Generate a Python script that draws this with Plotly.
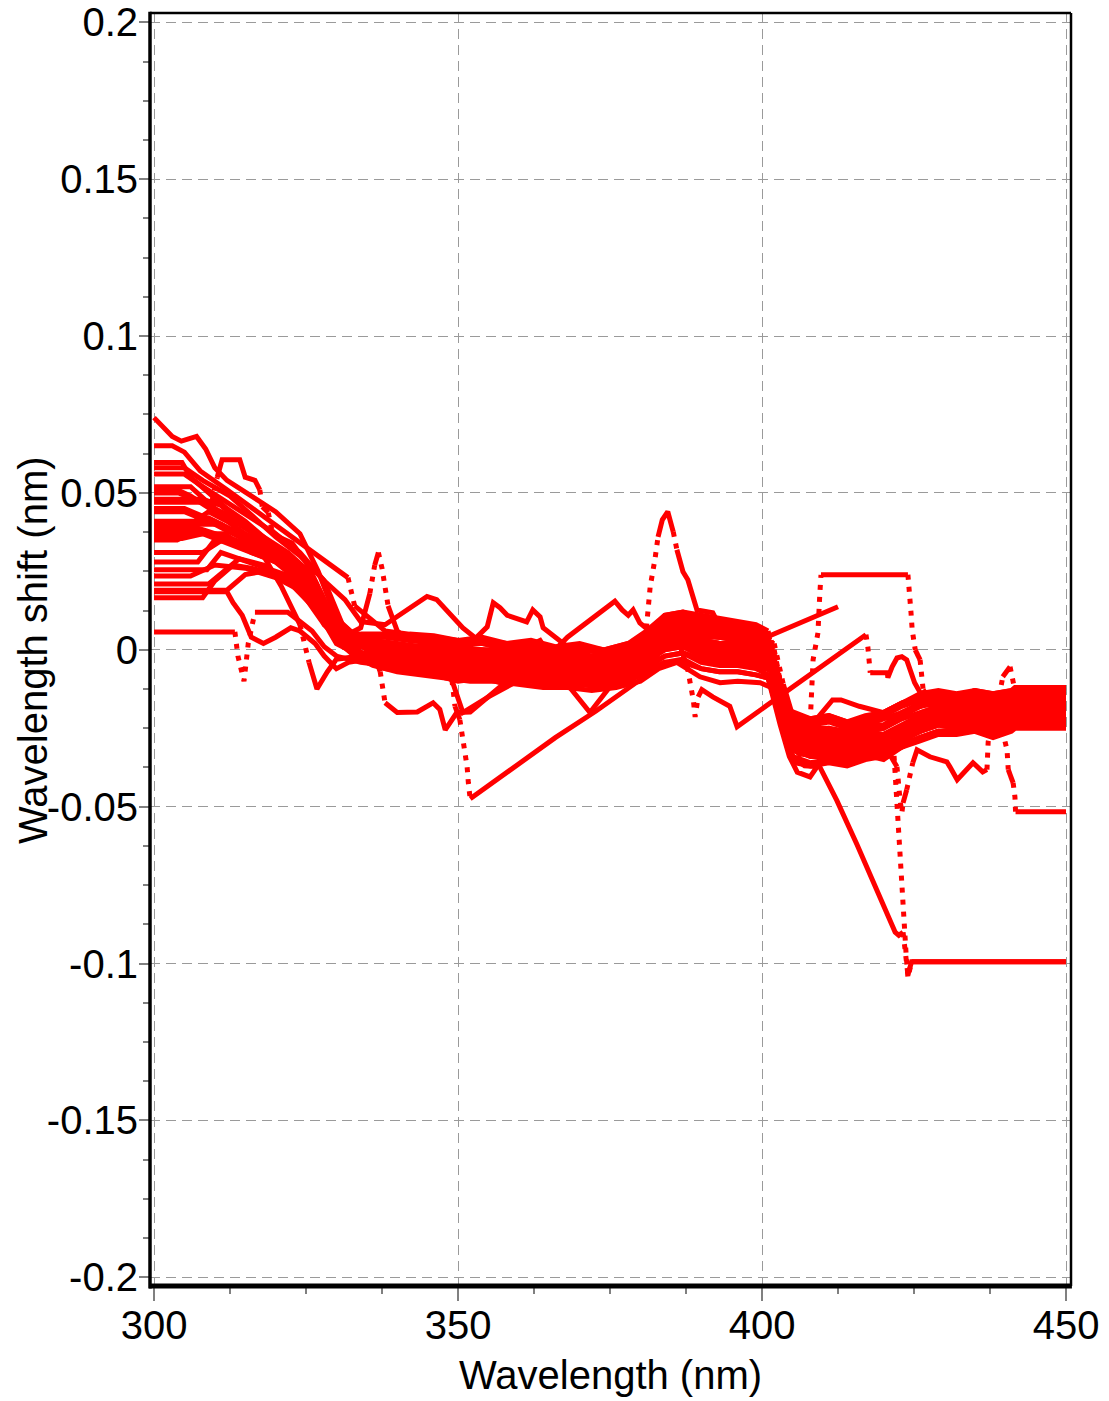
import plotly.graph_objects as go

# ---------------- data ----------------
x_tick_vals = [300, 350, 400, 450]
x_tick_text = ["300", "350", "400", "450"]
y_tick_vals = [-0.2, -0.15, -0.1, -0.05, 0, 0.05, 0.1, 0.15, 0.2]
y_tick_text = ["-0.2", "-0.15", "-0.1", "-0.05", "0", "0.05", "0.1", "0.15", "0.2"]
x_title = "Wavelength (nm)"
y_title = "Wavelength shift (nm)"

# each series: list of (wavelength nm, shift nm) vertices
s01 = [(300, 0.074), (301.5, 0.071), (303, 0.068), (304.5, 0.0665), (307, 0.068), (308.5, 0.064), (310, 0.058), (312, 0.054), (316, 0.049), (320, 0.044), (324, 0.037), (327, 0.025), (330, 0.010),
       (334, 0.003), (338, 0.0025), (342, 0.001), (346, 0.0015), (350, 0.000), (354, -0.0005), (358, -0.001), (362, 0.000), (366, -0.002), (370, -0.0015), (374, -0.003), (378, -0.001),
       (381, 0.004), (384, 0.009), (387, 0.010), (390, 0.008), (393, 0.007), (396, 0.006), (399, 0.005), (401.5, 0.003), (403, -0.010), (405, -0.022),
       (408, -0.024), (411, -0.023), (414, -0.025), (417, -0.024), (420, -0.022), (423, -0.020), (426, -0.017),
       (429, -0.017), (432, -0.018), (435, -0.016), (438, -0.018), (441, -0.016), (441.6, -0.014), (450, -0.014)]

s02 = [(300, 0.065), (303, 0.065), (305, 0.063), (307.6, 0.057), (312, 0.051), (316, 0.0453), (320, 0.0396), (324, 0.034), (328, 0.0285), (331.9, 0.023), (333, 0.014), (336, 0.009),
       (338, 0.006), (342, 0.005), (346, 0.0045), (350, 0.003), (354, 0.004), (358, 0.002), (362, 0.003), (366, 0.001), (370, 0.002), (374, 0.000), (378, 0.002),
       (381, 0.003), (384, 0.007), (387, 0.008), (390, 0.007), (393, 0.006), (396, 0.005), (399, 0.004), (401, 0.002), (402.5, -0.008), (404.5, -0.021),
       (408, -0.022), (411, -0.021), (414, -0.023), (417, -0.022), (420, -0.020), (423, -0.017), (426, -0.015),
       (429, -0.014), (432, -0.015), (435, -0.013), (438, -0.015), (441, -0.014), (441.6, -0.013), (450, -0.013)]

s03 = [(300, 0.047), (309.5, 0.047), (310.4, 0.055), (311.2, 0.0606), (314.1, 0.0606), (314.5, 0.058), (315.0, 0.055), (316.6, 0.054), (317.4, 0.051), (317.8, 0.0456), (318.8, 0.0437), (319.4, 0.038), (320.4, 0.036), (322.7, 0.034), (325, 0.028), (327.5, 0.018), (330, 0.006),
       (334, 0.001), (338, 0.0005), (342, -0.0005), (346, 0.000), (350, -0.002), (354, -0.001), (358, -0.003), (362, -0.002), (366, -0.004), (370, -0.003), (374, -0.004), (378, -0.002),
       (381, 0.000), (384, 0.004), (387, 0.005), (390, 0.003), (393, 0.002), (396, 0.0015), (399, 0.000), (402, -0.003), (403.5, -0.014), (405.5, -0.026),
       (408, -0.028), (411, -0.027), (414, -0.028), (417, -0.026), (420, -0.027), (423, -0.024), (426, -0.021),
       (429, -0.019), (432, -0.020), (435, -0.018), (438, -0.020), (441, -0.018), (441.6, -0.016), (450, -0.016)]

s04 = [(300, 0.058), (305, 0.058), (308, 0.054), (312.5, 0.049), (316, 0.043), (320, 0.036), (324, 0.030), (328, 0.022), (331.4, 0.016), (334, 0.009), (338, 0.008), (341, 0.012), (344.9, 0.017), (346.5, 0.016), (348.5, 0.012), (350.8, 0.007), (354, 0.002),
       (358, 0.000), (362, -0.001), (366, -0.003), (370, -0.002), (374, -0.004), (378, -0.002),
       (381, 0.002), (384, 0.006), (387, 0.007), (390, 0.005), (393, 0.004), (396, 0.004), (399, 0.002), (401, 0.001), (402.5, -0.010), (404.5, -0.024),
       (408, -0.026), (411, -0.025), (414, -0.027), (417, -0.025), (420, -0.024), (423, -0.021), (426, -0.018),
       (429, -0.016), (432, -0.017), (435, -0.015), (438, -0.017), (441, -0.015), (441.6, -0.014), (450, -0.014)]

s05 = [(300, 0.052), (306, 0.052), (310, 0.045), (314, 0.038), (318, 0.030), (321, 0.020), (324, 0.008), (325.5, -0.004), (326.8, -0.0125), (328.5, -0.007), (330, -0.003),
       (334, -0.002), (338, -0.002), (342, -0.003), (346, -0.004), (350, -0.004), (354, -0.005), (358, -0.005), (362, -0.006), (366, -0.007), (370, -0.006), (374, -0.008), (378, -0.006),
       (381, -0.003), (384, 0.000), (387, 0.001), (390, -0.001), (393, -0.002), (396, -0.002), (399, -0.003), (401.5, -0.005), (403, -0.016), (405, -0.029),
       (408, -0.031), (411, -0.030), (414, -0.032), (417, -0.030), (420, -0.029), (423, -0.026), (426, -0.024),
       (429, -0.022), (432, -0.023), (435, -0.021), (438, -0.023), (441, -0.021), (441.6, -0.020), (450, -0.020)]

s06 = [(300, 0.0057), (313.3, 0.0057), (313.8, -0.002), (314.3, -0.006), (314.8, -0.010), (315.5, 0.002), (316.6, 0.012), (322.0, 0.012), (324, 0.009), (326, 0.006), (328, 0.001), (330, -0.002),
       (334, -0.004), (338, -0.005), (342, -0.006), (346, -0.006), (350, -0.008), (354, -0.007), (358, -0.009), (362, -0.008), (366, -0.010), (370, -0.009), (374, -0.010), (378, -0.008),
       (381, -0.005), (384, -0.002), (387, -0.001), (390, -0.003), (393, -0.004), (396, -0.004), (399, -0.005), (402, -0.007), (403.5, -0.020), (405.5, -0.032),
       (408, -0.034), (411, -0.033), (414, -0.035), (417, -0.033), (420, -0.032), (423, -0.029), (426, -0.026),
       (429, -0.024), (432, -0.025), (435, -0.023), (438, -0.025), (441, -0.023), (441.6, -0.022), (450, -0.022)]

s07 = [(300, 0.0185), (312, 0.0185), (313, 0.015), (314.5, 0.011), (316, 0.004), (318, 0.002), (320, 0.004), (322.5, 0.007), (324, 0.006), (326.5, 0.002), (328, -0.002), (330, -0.006), (332, -0.004),
       (335, -0.003), (338, -0.005), (342, -0.007), (346, -0.008), (350, -0.010), (354, -0.009), (358, -0.011), (362, -0.010), (366, -0.012), (370, -0.011), (374, -0.012), (378, -0.010),
       (381, -0.007), (384, -0.004), (387, -0.003), (390, -0.006), (393, -0.007), (396, -0.007), (399, -0.008), (401, -0.009), (403, -0.022), (405, -0.034),
       (408, -0.036), (411, -0.035), (414, -0.036), (417, -0.034), (420, -0.034), (423, -0.031), (426, -0.028),
       (429, -0.026), (432, -0.026), (435, -0.024), (438, -0.026), (441, -0.024), (441.6, -0.022), (450, -0.022)]

s08 = [(300, 0.028), (307.2, 0.028), (310, 0.035), (314, 0.034), (318, 0.030), (322, 0.027), (325, 0.020), (328, 0.008), (331, 0.003),
       (334, 0.002), (338, 0.001), (342, -0.001), (346, -0.001), (350, -0.003), (354, -0.002), (358, -0.003), (362, -0.003), (366, -0.005), (370, -0.004), (374, -0.005), (378, -0.003),
       (381, 0.001), (384, 0.006), (387, 0.007), (390, 0.005), (393, 0.005), (396, 0.004), (399, 0.003), (401, 0.001), (402.5, -0.012), (404.5, -0.026),
       (408, -0.029), (411, -0.028), (414, -0.030), (417, -0.028), (420, -0.027), (423, -0.025), (426, -0.022),
       (429, -0.020), (432, -0.021), (435, -0.019), (438, -0.021), (441, -0.019), (441.6, -0.017), (450, -0.017)]

s09 = [(300, 0.0255), (308.7, 0.0255), (311, 0.031), (314, 0.029), (317, 0.027), (320, 0.025), (323, 0.023), (326, 0.016), (329, 0.006), (332, 0.000),
       (335, -0.003), (338, -0.004), (342, -0.005), (346, -0.005), (350, -0.006), (354, -0.006), (358, -0.007), (362, -0.007), (366, -0.009), (370, -0.008), (374, -0.009), (378, -0.007),
       (381, -0.003), (384, 0.002), (387, 0.003), (390, 0.000), (393, 0.000), (396, -0.001), (399, -0.002), (401.5, -0.004), (403, -0.018), (405, -0.031),
       (408, -0.032), (411, -0.032), (414, -0.033), (417, -0.031), (420, -0.031), (423, -0.028), (426, -0.026),
       (429, -0.024), (432, -0.025), (435, -0.023), (438, -0.025), (441, -0.023), (441.6, -0.021), (450, -0.021)]

s10 = [(300, 0.037), (311.7, 0.037), (313, 0.035), (316, 0.031), (319, 0.029), (322, 0.027), (325, 0.022), (328, 0.012), (331, 0.004),
       (334, 0.004), (338, 0.004), (342, 0.003), (346, 0.003), (350, 0.002), (354, 0.002), (358, 0.001), (362, 0.001), (366, -0.001), (370, 0.000), (374, -0.001), (378, 0.001),
       (381, 0.005), (384, 0.010), (387, 0.011), (390, 0.010), (393, 0.009), (396, 0.008), (399, 0.007), (401, 0.005), (402.5, -0.007), (404.5, -0.021),
       (408, -0.023), (411, -0.022), (414, -0.024), (417, -0.023), (420, -0.021), (423, -0.018), (426, -0.016),
       (429, -0.015), (432, -0.016), (435, -0.014), (438, -0.016), (441, -0.014), (441.6, -0.013), (450, -0.013)]

s11 = [(300, 0.041), (306.7, 0.041), (309, 0.044), (312, 0.041), (315, 0.037), (318, 0.034), (321, 0.030), (324, 0.026), (327, 0.016), (330, 0.005),
       (334, -0.001), (338, -0.002), (342, -0.003), (346, -0.003), (350, -0.004), (354, -0.004), (358, -0.005), (362, -0.005), (366, -0.006), (370, -0.006), (374, -0.007), (378, -0.005),
       (381, -0.001), (384, 0.003), (387, 0.004), (390, 0.002), (393, 0.001), (396, 0.000), (399, -0.001), (402, -0.003), (403.5, -0.016), (405.5, -0.028),
       (408, -0.030), (411, -0.029), (414, -0.031), (417, -0.029), (420, -0.028), (423, -0.026), (426, -0.023),
       (429, -0.021), (432, -0.022), (435, -0.020), (438, -0.022), (441, -0.020), (441.6, -0.019), (450, -0.019)]

s12 = [(300, 0.0597), (304.6, 0.0597), (306, 0.055), (309, 0.050), (312, 0.045), (315, 0.041), (318, 0.036), (321, 0.031), (324, 0.027), (327, 0.018), (330, 0.006),
       (334, 0.005), (338, 0.005), (342, 0.004), (346, 0.004), (350, 0.003), (354, 0.003), (358, 0.002), (362, 0.002), (366, 0.000), (370, 0.001), (374, 0.000), (378, 0.002),
       (381, 0.006), (384, 0.011), (387, 0.012), (390, 0.011), (393, 0.010), (396, 0.009), (399, 0.008), (401, 0.006), (402, -0.004), (404, -0.019),
       (408, -0.022), (411, -0.021), (414, -0.023), (417, -0.021), (420, -0.020), (423, -0.017), (426, -0.015),
       (429, -0.014), (432, -0.015), (435, -0.013), (438, -0.014), (441, -0.013), (441.6, -0.012), (450, -0.012)]

s13 = [(300, 0.044), (305, 0.044), (310, 0.040), (315, 0.035), (320, 0.029), (324, 0.023), (328, 0.011), (332, 0.003), (338, 0.002), (344, 0.001), (348, -0.002),
       (349.0, -0.0096), (349.5, -0.018), (350.3, -0.0223), (350.8, -0.0277), (351.2, -0.0319), (351.5, -0.0373), (351.7, -0.0424), (352.0, -0.0475),
       (358, -0.039), (366, -0.028), (372.7, -0.0195), (378, -0.012), (381.6, -0.0073),
       (384, 0.004), (387, 0.005), (390, 0.003), (393, 0.002), (396, 0.002), (399, 0.001), (401.5, -0.001), (403, -0.014), (405, -0.027),
       (408, -0.028), (411, -0.028), (414, -0.029), (417, -0.027), (420, -0.027), (423, -0.024), (426, -0.021),
       (429, -0.019), (432, -0.020), (435, -0.018), (438, -0.020), (441, -0.019), (441.6, -0.017), (450, -0.017)]

s14 = [(300, 0.038), (308, 0.038), (314, 0.033), (320, 0.028), (325, 0.020), (330, 0.006), (333, 0.004), (335.5, 0.002), (337.2, -0.007), (338.0, -0.0169), (340.0, -0.020), (343.3, -0.0198), (345.9, -0.0169), (347.0, -0.019), (347.9, -0.0255), (349.8, -0.020), (352.0, -0.0198), (356.9, -0.0118), (358.6, -0.0086),
       (362, -0.008), (366, -0.009), (370, -0.008), (374, -0.010), (378, -0.007),
       (381, -0.003), (384, 0.001), (387, 0.002), (390, 0.000), (393, -0.001), (396, -0.001), (399, -0.002), (401, -0.004), (403, -0.019), (405, -0.031),
       (408, -0.033), (411, -0.032), (414, -0.034), (417, -0.032), (420, -0.032), (423, -0.029), (426, -0.026),
       (429, -0.023), (432, -0.024), (435, -0.022), (438, -0.024), (441, -0.022), (441.6, -0.021), (450, -0.021)]

s15 = [(300, 0.040), (311, 0.040), (315, 0.035), (320, 0.030), (324, 0.025), (328, 0.012), (331, 0.004), (334, 0.007), (335.5, 0.018), (336.3, 0.027), (336.9, 0.031), (337.5, 0.026), (338.5, 0.014), (340, 0.006),
       (342, 0.003), (346, 0.002), (350, 0.001), (354, 0.000), (358, 0.000), (362, -0.001), (366, -0.002), (370, -0.001), (374, -0.003), (378, -0.001),
       (381, 0.003), (384, 0.008), (387, 0.009), (390, 0.007), (393, 0.006), (396, 0.006), (399, 0.004), (401.5, 0.002), (403, -0.012), (405, -0.025),
       (408, -0.027), (411, -0.026), (414, -0.028), (417, -0.026), (420, -0.025), (423, -0.022), (426, -0.020),
       (429, -0.018), (432, -0.019), (435, -0.017), (438, -0.019), (441, -0.017), (441.6, -0.015), (450, -0.015)]

s16 = [(300, 0.035), (303.8, 0.035), (307, 0.038), (311, 0.036), (315, 0.032), (319, 0.029), (323, 0.026), (326, 0.018), (329, 0.008), (332, 0.002), (338, 0.001), (344, 0.000), (348, -0.004), (350.8, -0.020), (355, -0.015), (362.3, -0.0073), (368, 0.004), (372, 0.010), (375.8, 0.0155), (377, 0.0127), (378, 0.011), (378.8, 0.0127), (379.9, 0.0086), (381.5, 0.006),
       (384, 0.006), (387, 0.007), (390, 0.005), (393, 0.004), (396, 0.003), (399, 0.002), (401, 0.000), (402.5, -0.012), (404.5, -0.027),
       (408, -0.029), (411, -0.029), (414, -0.030), (417, -0.028), (420, -0.028), (423, -0.025), (426, -0.022),
       (429, -0.020), (432, -0.021), (435, -0.019), (438, -0.021), (441, -0.020), (441.6, -0.018), (450, -0.018)]

s17 = [(300, 0.0166), (308, 0.0166), (310, 0.022), (313, 0.027), (316, 0.026), (320, 0.024), (324, 0.021), (327, 0.012), (330, 0.002), (334, -0.002), (338, -0.001), (342, -0.002), (346, -0.003), (350, -0.004), (354, -0.003), (358, -0.002), (363.5, 0.003), (368.4, -0.012), (371.7, -0.020), (373.4, -0.016), (375.5, -0.0105), (378, -0.006),
       (381, -0.003), (384, 0.002), (387, 0.003), (390, 0.001), (393, 0.000), (396, -0.001), (399, -0.002), (401, -0.004), (403, -0.020), (405, -0.032),
       (408, -0.034), (411, -0.034), (414, -0.035), (417, -0.034), (420, -0.033), (423, -0.030), (426, -0.028),
       (429, -0.026), (432, -0.026), (435, -0.025), (438, -0.027), (441, -0.025), (441.6, -0.024), (450, -0.024)]

s18 = [(300, 0.050), (304, 0.050), (308, 0.047), (312, 0.043), (316, 0.038), (320, 0.033), (324, 0.027), (328, 0.014), (332, 0.004),
       (335, 0.002), (338, 0.002), (342, 0.000), (346, 0.001), (350, -0.001), (354, -0.001), (358, -0.002), (362, -0.001), (366, -0.003), (370, -0.002), (374, -0.003), (378, -0.001),
       (380.8, 0.003), (381.6, 0.020), (382.4, 0.029), (382.9, 0.036), (383.6, 0.0414), (384.5, 0.044), (385.4, 0.0376), (386.0, 0.0319), (387.0, 0.0249), (387.8, 0.0223), (388.7, 0.0169), (389.3, 0.0127), (391.9, 0.0118), (393.1, 0.0073), (396, 0.005), (399, 0.003), (401.5, 0.001), (403, -0.012), (405, -0.025),
       (408, -0.027), (411, -0.026), (414, -0.028), (417, -0.026), (420, -0.025), (423, -0.021), (426, -0.018),
       (429, -0.017), (432, -0.018), (435, -0.016), (438, -0.017), (441, -0.016), (441.6, -0.014), (450, -0.014)]

s19 = [(300, 0.0355), (304.6, 0.0355), (308, 0.037), (312, 0.034), (316, 0.031), (320, 0.028), (324, 0.023), (328, 0.011), (332, 0.002),
       (335, -0.002), (338, -0.003), (342, -0.004), (346, -0.004), (350, -0.006), (354, -0.005), (358, -0.007), (362, -0.006), (366, -0.008), (370, -0.007), (374, -0.008), (378, -0.006),
       (381, -0.002), (384, 0.003), (386, 0.004), (387.7, -0.0054), (388.7, -0.016), (389.0, -0.0214), (389.5, -0.015), (390.1, -0.0127), (391.9, -0.015), (394.7, -0.018), (395.9, -0.0245), (400.5, -0.018), (405, -0.012), (410, -0.005), (417.1, 0.0048), (417.4, 0.001), (417.8, -0.0073), (420.6, -0.0073), (420.7, -0.0089), (421.4, -0.0054), (422.2, -0.0026), (423.0, -0.0022), (423.8, -0.0032), (424.3, -0.0064), (425.1, -0.0105), (427, -0.017),
       (429, -0.018), (432, -0.019), (435, -0.017), (438, -0.019), (441, -0.017), (441.6, -0.016), (450, -0.016)]

s20 = [(300, 0.031), (308, 0.031), (312, 0.036), (316, 0.033), (320, 0.029), (324, 0.025), (328, 0.015), (332, 0.005),
       (335, 0.003), (338, 0.002), (342, 0.001), (346, 0.001), (350, 0.000), (354, 0.000), (358, -0.001), (362, -0.001), (366, -0.002), (370, -0.002), (374, -0.002), (378, 0.000),
       (381, 0.004), (384, 0.009), (387, 0.010), (390, 0.009), (393, 0.008), (396, 0.007), (399, 0.006), (400.8, 0.0041), (412.5, 0.0137)]

s21 = [(300, 0.0235), (306, 0.0235), (310, 0.027), (315, 0.026), (320, 0.023), (324, 0.019), (328, 0.008), (332, 0.000),
       (335, -0.002), (338, -0.004), (342, -0.005), (346, -0.006), (350, -0.007), (354, -0.006), (358, -0.008), (362, -0.007), (366, -0.009), (370, -0.008), (374, -0.010), (378, -0.008),
       (381, -0.004), (384, 0.000), (387, 0.001), (390, -0.002), (393, -0.003), (396, -0.003), (399, -0.004), (401.5, -0.006), (403, -0.019), (405, -0.031),
       (406.5, -0.034), (408.0, -0.020), (408.4, -0.0032), (408.7, 0.000), (409.2, 0.0054), (409.5, 0.0175), (409.7, 0.0239), (424.0, 0.0239), (424.3, 0.0185), (424.5, 0.012), (424.7, 0.0064), (425.2, 0.000), (426.0, -0.0032), (426.5, -0.0127), (429, -0.020),
       (432, -0.021), (435, -0.019), (438, -0.021), (441, -0.020), (441.6, -0.020), (450, -0.020)]

s22 = [(300, 0.021), (309, 0.021), (314, 0.029), (318, 0.027), (322, 0.022), (326, 0.014), (330, 0.004), (334, -0.002),
       (338, -0.005), (342, -0.007), (346, -0.007), (350, -0.008), (354, -0.008), (358, -0.010), (362, -0.009), (366, -0.011), (370, -0.010), (374, -0.011), (378, -0.009),
       (381, -0.006), (384, -0.002), (387, -0.001), (390, -0.004), (393, -0.005), (396, -0.005), (399, -0.006), (401, -0.008), (403, -0.022), (405, -0.034), (407, -0.037),
       (409.5, -0.0373), (412.3, -0.048), (415.6, -0.062), (418.9, -0.077), (421.9, -0.090), (422.5, -0.091), (423.2, -0.090), (423.7, -0.0975), (424.0, -0.1036), (424.6, -0.0994), (450, -0.0994)]

s23 = [(300, 0.045), (305, 0.045), (310, 0.041), (315, 0.036), (320, 0.031), (324, 0.026), (328, 0.014), (332, 0.004),
       (335, 0.000), (338, -0.001), (342, -0.002), (346, -0.002), (350, -0.003), (354, -0.003), (358, -0.004), (362, -0.004), (366, -0.006), (370, -0.005), (374, -0.006), (378, -0.004),
       (381, 0.000), (384, 0.005), (387, 0.006), (390, 0.004), (393, 0.004), (396, 0.003), (399, 0.002), (402, 0.000), (403.5, -0.015), (405.5, -0.028),
       (408, -0.031), (411, -0.030), (414, -0.032), (417, -0.030), (420, -0.029), (421.6, -0.030),
       (423.0, -0.0759), (423.1, -0.083), (423.4, -0.090), (423.7, -0.097), (424.0, -0.1045), (424.6, -0.0994), (450, -0.0994)]

s24 = [(300, 0.048), (308, 0.048), (311, 0.046), (314, 0.041), (318, 0.036), (322, 0.031), (326, 0.024), (329, 0.012), (332, 0.004),
       (335, 0.002), (338, 0.000), (342, -0.001), (346, -0.001), (350, -0.002), (354, -0.001), (358, -0.003), (362, -0.002), (366, -0.004), (370, -0.003), (374, -0.005), (378, -0.003),
       (381, 0.001), (384, 0.004), (387, 0.005), (390, 0.003), (393, 0.002), (396, 0.002), (399, 0.001), (401, -0.001), (402.5, -0.014), (404.5, -0.028),
       (408, -0.031), (411, -0.031), (414, -0.032), (417, -0.031), (420, -0.030),
       (422.2, -0.0373), (422.4, -0.0424), (422.7, -0.0478), (423.0, -0.052), (423.2, -0.0488), (423.8, -0.0446), (424.3, -0.0405), (424.8, -0.036), (425.5, -0.0319), (427.6, -0.0341), (430.4, -0.0357), (430.9, -0.0373), (432.1, -0.0414), (434.7, -0.036), (436.3, -0.0389), (437.0, -0.0382), (437.2, -0.0293), (437.8, -0.024), (441, -0.023), (441.6, -0.022), (450, -0.022)]

s25 = [(300, 0.039), (305.8, 0.039), (309, 0.042), (313, 0.038), (317, 0.034), (321, 0.030), (325, 0.026), (328, 0.015), (331, 0.005),
       (334, -0.001), (338, -0.002), (342, -0.004), (346, -0.003), (350, -0.005), (354, -0.004), (358, -0.006), (362, -0.005), (366, -0.007), (370, -0.006), (374, -0.007), (378, -0.005),
       (381, -0.001), (384, 0.004), (387, 0.005), (390, 0.003), (393, 0.002), (396, 0.001), (399, 0.000), (401.5, -0.002), (403, -0.017), (405, -0.030),
       (408, -0.032), (411, -0.032), (414, -0.033), (417, -0.031), (420, -0.031), (423, -0.027), (426, -0.025),
       (429, -0.022), (432, -0.023), (435, -0.021), (438, -0.023), (439.5, -0.0255), (440.3, -0.0319), (440.5, -0.0382), (441.3, -0.0424), (441.6, -0.0469), (441.7, -0.0516), (450, -0.0516)]

s26 = [(300, 0.056), (305, 0.056), (308, 0.052), (312, 0.047), (316, 0.042), (320, 0.037), (324, 0.031), (328, 0.022), (331, 0.008),
       (334, 0.003), (338, 0.002), (342, 0.001), (346, 0.000), (350, 0.000), (354, -0.001), (358, -0.001), (362, -0.002), (366, -0.002), (370, -0.003), (374, -0.002), (378, -0.001),
       (381, 0.002), (384, 0.007), (387, 0.008), (390, 0.006), (393, 0.005), (396, 0.005), (399, 0.004), (402, 0.002), (403.5, -0.011), (405.5, -0.024),
       (408, -0.025), (411, -0.025), (414, -0.026), (417, -0.024), (420, -0.024), (423, -0.020), (426, -0.018),
       (429, -0.016), (432, -0.017), (435, -0.015), (438.5, -0.018), (439.0, -0.015), (439.6, -0.0086), (440.8, -0.0054), (441.5, -0.012), (450, -0.012)]

s27 = [(300, 0.051), (303.8, 0.051), (306, 0.049), (310, 0.044), (314, 0.040), (318, 0.035), (322, 0.030), (326, 0.021), (329, 0.009), (332, 0.002),
       (335, -0.004), (338, -0.006), (342, -0.007), (346, -0.008), (350, -0.009), (354, -0.009), (358, -0.010), (362, -0.010), (366, -0.011), (370, -0.011), (374, -0.012), (378, -0.010),
       (381, -0.007), (384, -0.004), (387, -0.004), (390, -0.006), (393, -0.007), (396, -0.007), (399, -0.008), (401, -0.009), (403, -0.024), (404.5, -0.034),
       (405.8, -0.039), (407.9, -0.0405), (409.5, -0.036), (412, -0.035), (415, -0.036), (418, -0.034), (420, -0.035), (423, -0.031), (426, -0.029),
       (429, -0.027), (432, -0.027), (435, -0.026), (438, -0.028), (441, -0.026), (441.6, -0.025), (450, -0.025)]

s28 = [(300, 0.0395), (306, 0.0395), (310, 0.037), (314, 0.034), (318, 0.031), (322, 0.028), (326, 0.020), (329, 0.008), (332, 0.003),
       (336, 0.003), (340, 0.002), (344, 0.001), (348, 0.001), (352, 0.002), (354.8, 0.0073), (355.8, 0.015), (356.9, 0.0134), (358.1, 0.011), (361.3, 0.0089), (362.3, 0.0127), (363.5, 0.0105), (364.0, 0.007), (368, 0.001), (372, 0.000), (376, -0.001), (378, 0.001),
       (381, 0.005), (384, 0.011), (387, 0.012), (390, 0.010), (393, 0.009), (396, 0.008), (399, 0.007), (401, 0.005), (402.5, -0.008), (404.5, -0.020),
       (406, -0.024), (409, -0.022), (411.6, -0.016), (413, -0.016), (416, -0.018), (420, -0.020), (423, -0.017), (426, -0.014),
       (429, -0.013), (432, -0.014), (435, -0.013), (438, -0.014), (441, -0.013), (441.6, -0.013), (450, -0.013)]

s29 = [(300, 0.019), (312, 0.019), (315, 0.024), (318, 0.025), (321, 0.023), (324, 0.020), (327, 0.012), (330, 0.003), (333, -0.002),
       (336, -0.005), (340, -0.007), (344, -0.008), (348, -0.009), (352, -0.010), (356, -0.010), (360, -0.011), (364, -0.012), (368, -0.012), (372, -0.013), (376, -0.012), (380, -0.010),
       (383, -0.006), (386, -0.004), (389.8, -0.0086), (393.1, -0.0105), (396, -0.010), (399.7, -0.0105), (401.5, -0.012), (403.5, -0.026), (405.5, -0.036),
       (408, -0.037), (411, -0.036), (414, -0.037), (417, -0.035), (420, -0.034), (423, -0.031), (426, -0.028),
       (429, -0.026), (432, -0.026), (435, -0.025), (438, -0.026), (441, -0.024), (441.6, -0.023), (450, -0.023)]

series = [s01, s02, s03, s04, s05, s06, s07, s08, s09, s10, s11, s12, s13, s14, s15,
          s16, s17, s18, s19, s20, s21, s22, s23, s24, s25, s26, s27, s28, s29]

# ---------------- layout constants ----------------
W, H = 1109, 1401
M_L, M_R, M_T, M_B = 150, 38, 13, 115
X_RANGE = [299.34, 450.82]
Y_RANGE = [-0.20277, 0.20296]
FONT = "Liberation Sans, Arial, sans-serif"
RED = "#ff0000"

plot_w = W - M_L - M_R
plot_h = H - M_T - M_B
px_per_x = plot_w / (X_RANGE[1] - X_RANGE[0])
px_per_y = plot_h / (Y_RANGE[1] - Y_RANGE[0])


def split_runs(pts):
    """Split a series into solid (gentle) and dotted (steep) segment runs."""
    solid_x, solid_y, dot_x, dot_y = [], [], [], []
    cur = None
    for (x0, y0), (x1, y1) in zip(pts[:-1], pts[1:]):
        dx = abs(x1 - x0) * px_per_x
        dy = abs(y1 - y0) * px_per_y
        steep = dy > 10 and dy > 4 * dx
        tx, ty = (dot_x, dot_y) if steep else (solid_x, solid_y)
        if cur != steep:
            if tx:
                tx.append(None)
                ty.append(None)
            tx.append(x0)
            ty.append(y0)
            cur = steep
        tx.append(x1)
        ty.append(y1)
    return solid_x, solid_y, dot_x, dot_y


fig = go.Figure()
for pts in series:
    sx, sy, dx_, dy_ = split_runs(pts)
    if sx:
        fig.add_trace(go.Scatter(x=sx, y=sy, mode="lines",
                                 line=dict(color=RED, width=5),
                                 showlegend=False, hoverinfo="skip"))
    if dx_:
        fig.add_trace(go.Scatter(x=dx_, y=dy_, mode="lines",
                                 line=dict(color=RED, width=5, dash="5px,7px"),
                                 showlegend=False, hoverinfo="skip"))

grid = dict(showgrid=True, gridcolor="#9a9a9a", gridwidth=1, griddash="10px,6px",
            zeroline=False, showline=False, automargin=False)

fig.update_layout(
    width=W, height=H, autosize=False,
    margin=dict(l=M_L, r=M_R, t=M_T, b=M_B, pad=0),
    paper_bgcolor="white", plot_bgcolor="white",
    font=dict(family=FONT, size=40, color="black"),
    xaxis=dict(range=X_RANGE, tickmode="array", tickvals=x_tick_vals, ticktext=x_tick_text,
               ticks="outside", ticklen=14, tickwidth=2, tickcolor="#808080",
               ticklabelstandoff=-10,
               tickfont=dict(family=FONT, size=40, color="black"),
               minor=dict(tick0=300, dtick=12.5, ticks="outside", ticklen=7,
                          tickwidth=2, tickcolor="#808080", showgrid=False),
               **grid),
    yaxis=dict(range=Y_RANGE, tickmode="array", tickvals=y_tick_vals, ticktext=y_tick_text,
               ticks="outside", ticklen=10, tickwidth=2, tickcolor="#808080",
               ticklabelstandoff=-7,
               tickfont=dict(family=FONT, size=40, color="black"),
               minor=dict(tick0=-0.2, dtick=0.0125, ticks="outside", ticklen=6,
                          tickwidth=2, tickcolor="#808080", showgrid=False),
               **grid),
    shapes=[
        dict(type="line", xref="paper", yref="paper", x0=0, x1=1, y0=1, y1=1,
             line=dict(color="black", width=2.5), layer="above"),
        dict(type="line", xref="paper", yref="paper", x0=1, x1=1, y0=0, y1=1,
             line=dict(color="black", width=2.5), layer="above"),
        dict(type="line", xref="paper", yref="paper", x0=0, x1=0, y0=-0.002, y1=1.001,
             line=dict(color="black", width=3.5), layer="above"),
        dict(type="line", xref="paper", yref="paper", x0=-0.001, x1=1.001, y0=0, y1=0,
             line=dict(color="black", width=5), layer="above"),
    ],
    annotations=[
        dict(text=x_title, xref="paper", yref="paper", x=(610 - M_L) / plot_w,
             y=(H - M_B - 1375) / plot_h, xanchor="center", yanchor="middle",
             showarrow=False, font=dict(family=FONT, size=40, color="black")),
        dict(text=y_title, xref="paper", yref="paper", x=(33 - M_L) / plot_w,
             y=(H - M_B - 650) / plot_h, xanchor="center", yanchor="middle",
             textangle=-90, showarrow=False,
             font=dict(family=FONT, size=40, color="black")),
    ],
)

fig.write_html("out.html")
